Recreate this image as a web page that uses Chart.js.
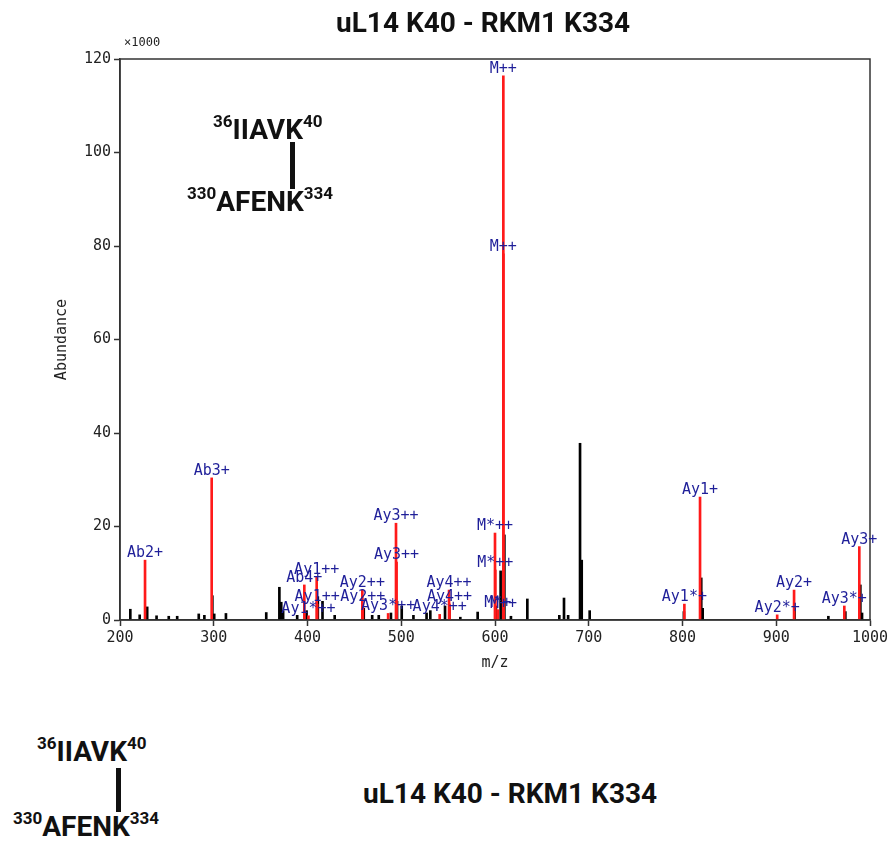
<!DOCTYPE html>
<html>
<head>
<meta charset="utf-8">
<title>uL14 K40 - RKM1 K334</title>
<script src="https://cdn.jsdelivr.net/npm/chart.js@4.4.1/dist/chart.umd.min.js"></script>
<style>
    body { margin: 0; background: #fff; }
    #wrap { position: relative; width: 890px; height: 844px; overflow: hidden; }
    #spectrum { position: absolute; left: 0; top: 0; }
    .big { position: absolute; font-family: Roboto, sans-serif; font-weight: 700; font-size: 28px; line-height: 28px; color: #111; white-space: nowrap; }
    .big sup { font-size: 17px; line-height: 17px; position: relative; top: -3px; vertical-align: top; }
    .bar { position: absolute; width: 5px; background: #111; }
</style>
</head>
<body>
<div id="wrap">
    <canvas id="spectrum" width="890" height="700"></canvas>

    <div class="big" style="left:336px; top:9px;">uL14 K40 - RKM1 K334</div>

    <!-- peptide di dalam plot -->
    <div class="big" style="left:213px; top:116px;"><sup>36</sup>IIAVK<sup>40</sup></div>
    <div class="bar" style="left:290px; top:142px; height:47px;"></div>
    <div class="big" style="left:187px; top:188px;"><sup>330</sup>AFENK<sup>334</sup></div>

    <!-- bagian bawah -->
    <div class="big" style="left:37px; top:738px;"><sup>36</sup>IIAVK<sup>40</sup></div>
    <div class="bar" style="left:116px; top:768px; height:44px;"></div>
    <div class="big" style="left:13px; top:813px;"><sup>330</sup>AFENK<sup>334</sup></div>

    <div class="big" style="left:363px; top:780px;">uL14 K40 - RKM1 K334</div>
</div>

<script>
/* DATA SPEKTRUM (abundance dalam x1000) */

// puncak hitam (tanpa label)
const blackMz = [211, 221, 229, 239, 252, 261, 284, 290, 298.5, 300.5, 313, 356, 370, 372, 374, 389, 399,
    411, 416, 429, 460, 469, 476, 489, 495.5, 500.5, 513, 527, 531, 546.7, 551.5, 563, 581.5, 601, 606,
    610, 617, 634.5, 668.6, 673.6, 678, 690.7, 692.5, 701, 801.5, 820, 821.5, 919.5, 955.6, 973.7, 989.7, 991.5];
const blackAbund = [2.3, 1.1, 2.8, 0.9, 0.8, 0.8, 1.3, 1.0, 5.2, 1.3, 1.4, 1.6, 7.0, 3.8, 2.0, 1.0, 2.0,
    5.0, 4.0, 1.0, 2.5, 1.0, 1.0, 1.5, 4.0, 3.0, 1.0, 1.5, 2.0, 3.0, 2.8, 0.6, 1.7, 3.0, 10.5,
    18.2, 0.8, 4.5, 1.0, 4.7, 1.0, 37.8, 12.8, 2.0, 1.8, 9.0, 2.5, 2.5, 0.8, 1.8, 7.5, 1.5];

// puncak merah (teranotasi)
const redMz = [226.7, 297.8, 396.6, 401, 409.8, 410.3, 458.5, 459, 486, 494.4, 495, 541, 551, 551.5,
    600, 600.3, 603, 608.9, 608.9, 609, 802, 818.7, 901, 919, 972.6, 988.6];
const redAbund = [12.8, 30.4, 7.5, 0.9, 9.2, 3.4, 6.4, 3.4, 1.4, 20.7, 12.4, 1.2, 6.4, 3.4,
    18.6, 10.7, 2.2, 116.4, 78.3, 2.0, 3.4, 26.3, 1.1, 6.4, 3.0, 15.7];
const redLabels = ['Ab2+', 'Ab3+', 'Ab4+', 'Ay1*++', 'Ay1++', 'Ay1++', 'Ay2++', 'Ay2++', 'Ay3*++', 'Ay3++', 'Ay3++', 'Ay4*++', 'Ay4++', 'Ay4++',
    'M*++', 'M*++', 'M*+', 'M++', 'M++', 'M++', 'Ay1*+', 'Ay1+', 'Ay2*+', 'Ay2+', 'Ay3*+', 'Ay3+'];

// batas & langkah tick sumbu
const xRange = [200, 1000];
const xStep = 100;
const yRange = [0, 120];
const yStep = 20;

const monoFont = '"DejaVu Sans Mono", monospace';

// gabung array jadi titik {x, y}
function toPoints(xs, ys) {
    return xs.map((x, i) => ({ x: x, y: ys[i] }));
}

// PLUGIN: bingkai plot, label "x1000" dan label ion
const framePlugin = {
    id: 'frame',
    afterDatasetsDraw(chart) {
        const { ctx, chartArea: a } = chart;
        ctx.save();

        // bingkai kotak
        ctx.strokeStyle = '#333';
        ctx.lineWidth = 1.5;
        ctx.strokeRect(a.left, a.top, a.right - a.left, a.bottom - a.top);

        // label skala
        ctx.fillStyle = '#222';
        ctx.font = '12px ' + monoFont;
        ctx.textAlign = 'left';
        ctx.textBaseline = 'middle';
        ctx.fillText('\u00d71000', a.left + 4, a.top - 16);

        // label ion di atas puncak merah
        const meta = chart.getDatasetMeta(0);
        ctx.fillStyle = '#1f1f99';
        ctx.font = '15px ' + monoFont;
        ctx.textAlign = 'center';
        ctx.textBaseline = 'alphabetic';
        meta.data.forEach((bar, i) => {
            ctx.fillText(redLabels[i], bar.x, bar.y - 3);
        });
        ctx.restore();
    }
};

document.addEventListener('DOMContentLoaded', () => {
    const ctx = document.getElementById('spectrum');

    new Chart(ctx, {
        type: 'bar',
        data: {
            datasets: [
                {
                    label: 'annotated',
                    data: toPoints(redMz, redAbund),
                    backgroundColor: '#ff1a1a',
                    barThickness: 2,
                    grouped: false
                },
                {
                    label: 'peaks',
                    data: toPoints(blackMz, blackAbund),
                    backgroundColor: '#000',
                    barThickness: 2,
                    grouped: false
                }
            ]
        },
        options: {
            responsive: false,
            animation: false,
            layout: { padding: { top: 59, right: 20, left: 0, bottom: 0 } },
            plugins: {
                legend: { display: false },
                tooltip: { enabled: false }
            },
            scales: {
                x: {
                    type: 'linear',
                    min: xRange[0],
                    max: xRange[1],
                    offset: false,
                    afterFit: (s) => {
                        s.height = 80;
                        s.paddingLeft = 0;
                        s.paddingRight = 0;
                    },
                    ticks: {
                        stepSize: xStep,
                        autoSkip: false,
                        maxRotation: 0,
                        callback: (v) => String(v),
                        color: '#222',
                        font: { family: monoFont, size: 15 },
                        padding: 3
                    },
                    grid: { offset: false, drawOnChartArea: false, tickLength: 6, tickColor: '#333', tickWidth: 1.5 },
                    border: { display: true, color: '#333', width: 1.5 },
                    title: {
                        display: true,
                        text: 'm/z',
                        color: '#222',
                        font: { family: monoFont, size: 15 },
                        padding: { top: 0, bottom: 28 }
                    }
                },
                y: {
                    min: yRange[0],
                    max: yRange[1],
                    afterFit: (s) => { s.width = 120; },
                    ticks: { stepSize: yStep, color: '#222', font: { family: monoFont, size: 15 }, padding: 3 },
                    grid: { offset: false, drawOnChartArea: false, tickLength: 6, tickColor: '#333', tickWidth: 1.5 },
                    border: { display: true, color: '#333', width: 1.5 },
                    title: {
                        display: true,
                        text: 'Abundance',
                        color: '#222',
                        font: { family: monoFont, size: 15 },
                        padding: { top: 53, bottom: 0 }
                    }
                }
            }
        },
        plugins: [framePlugin]
    });
});
</script>
</body>
</html>
